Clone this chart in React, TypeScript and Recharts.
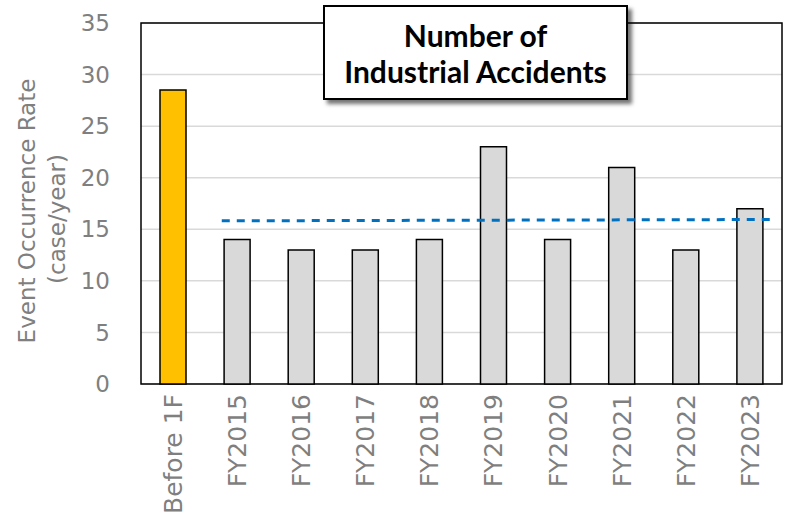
import React from 'react';
import {
  BarChart,
  Bar,
  Cell,
  XAxis,
  YAxis,
  CartesianGrid,
  ReferenceLine,
  ReferenceArea,
} from 'recharts';

const categories = [
  'Before 1F',
  'FY2015',
  'FY2016',
  'FY2017',
  'FY2018',
  'FY2019',
  'FY2020',
  'FY2021',
  'FY2022',
  'FY2023',
];
const accidents = [28.5, 14, 13, 13, 14, 23, 14, 21, 13, 17];
const yTicks = [0, 5, 10, 15, 20, 25, 30, 35];
// trend line over FY2015..FY2023 (x in category index units)
const trendX = [0.76, 9.39];
const trendY = [15.82, 15.95];

const data = categories.map((name, i) => ({ idx: i, name, value: accidents[i] }));
const xTicks = categories.map((_, i) => i);

const grey = '#7F7F7F';
const tickFont = 'DejaVu Sans, Verdana, sans-serif';

const XTick = (props: any) => {
  const { x, y, payload } = props;
  return (
    <text
      x={x}
      y={y}
      transform={`rotate(-90 ${x} ${y})`}
      textAnchor="end"
      dy="0.355em"
      fill={grey}
      fontSize={25}
      fontFamily={tickFont}
    >
      {categories[payload.value]}
    </text>
  );
};

const YLabel = () => (
  <g fill={grey} fontSize={23} fontFamily={tickFont}>
    <text x={35} y={211} transform="rotate(-90 35 211)" textAnchor="middle">
      Event Occurrence Rate
    </text>
    <text x={65} y={219} transform="rotate(-90 65 219)" textAnchor="middle">
      (case/year)
    </text>
  </g>
);

export default function App() {
  return (
    <div style={{ position: 'absolute', left: 0, top: 0, width: 787, height: 515, background: '#fff' }}>
      <BarChart
        width={787}
        height={515}
        data={data}
        margin={{ top: 23, right: 5, bottom: 0, left: 0 }}
      >
        <CartesianGrid vertical={false} stroke="#D9D9D9" strokeWidth={1.5} />
        <XAxis
          dataKey="idx"
          type="number"
          domain={[-0.5, 9.5]}
          allowDataOverflow
          ticks={xTicks}
          interval={0}
          tick={<XTick />}
          tickLine={false}
          axisLine={false}
          tickSize={0}
          tickMargin={10}
          height={131}
        />
        <YAxis
          domain={[0, 35]}
          ticks={yTicks}
          width={141}
          tickLine={false}
          axisLine={false}
          tickSize={0}
          tickMargin={31}
          tick={{ fill: grey, fontSize: 23, fontFamily: tickFont }}
          label={{ content: () => <YLabel /> }}
        />
        <Bar
          dataKey="value"
          barSize={26}
          stroke="#000"
          strokeWidth={1.5}
          isAnimationActive={false}
        >
          {data.map((d, i) => (
            <Cell key={d.name} fill={i === 0 ? '#FFC000' : '#D9D9D9'} />
          ))}
        </Bar>
        <ReferenceLine
          segment={[
            { x: trendX[0], y: trendY[0] },
            { x: trendX[1], y: trendY[1] },
          ]}
          ifOverflow="visible"
          stroke="#0070C0"
          strokeWidth={3}
          strokeDasharray="8 7"
        />
        <ReferenceArea
          y1={0}
          y2={35}
          ifOverflow="visible"
          fill="none"
          stroke="#000"
          strokeWidth={1.5}
        />
      </BarChart>
      <div
        style={{
          position: 'absolute',
          left: 323,
          top: 5,
          width: 305,
          height: 95,
          border: '2px solid #000',
          background: '#fff',
          boxShadow: '4px 4px 4px rgba(0,0,0,0.55)',
          fontFamily: 'Lato, "Noto Sans", sans-serif',
          fontWeight: 700,
          fontSize: 30,
          lineHeight: '36px',
          textAlign: 'center',
          paddingTop: 10,
          boxSizing: 'border-box',
          color: '#000',
        }}
      >
        Number of
        <br />
        Industrial Accidents
      </div>
    </div>
  );
}
